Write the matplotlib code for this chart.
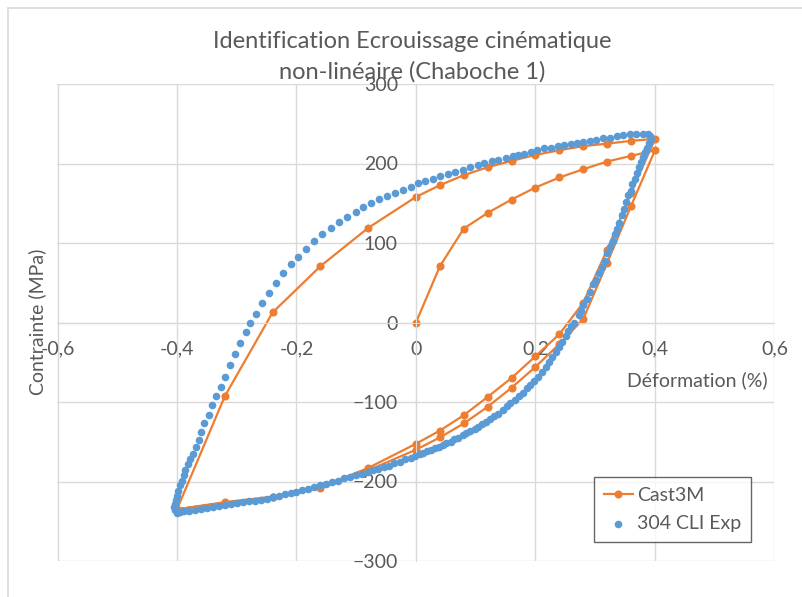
import matplotlib
matplotlib.use("Agg")
import matplotlib.pyplot as plt
from matplotlib.patches import Rectangle

plt.rcParams['font.family'] = ['Lato', 'DejaVu Sans']

# Cast3M simulation: monotonic loading, unloading, reloading, unloading
cast_load_x = [0, 0.04, 0.08, 0.12, 0.16, 0.2, 0.24, 0.28, 0.32, 0.36, 0.4]
cast_load_y = [0, 70.8, 118.2, 137.9, 154.7, 169.8, 182.4, 192.8, 202.5, 209.6, 216.7]
cast_down1_x = [0.36, 0.32, 0.28, 0.24, 0.2, 0.16, 0.12, 0.08, 0.04, 0, -0.08, -0.16, -0.24, -0.32, -0.4]
cast_down1_y = [146.7, 75, 4.5, -27, -55.8, -82, -106, -127, -144.6, -160, -186, -208, -220, -227, -235]
cast_up_x = [-0.32, -0.24, -0.16, -0.08, 0, 0.04, 0.08, 0.12, 0.16, 0.2, 0.24, 0.28, 0.32, 0.36, 0.4]
cast_up_y = [-92.7, 12.6, 70.8, 119, 158, 172.7, 185.3, 195.3, 203.3, 210.8, 216.7, 221.8, 225, 228.5, 231]
cast_down2_x = [0.36, 0.32, 0.28, 0.24, 0.2, 0.16, 0.12, 0.08, 0.04, 0, -0.08, -0.16, -0.24, -0.32, -0.4]
cast_down2_y = [163, 91.8, 25, -14.7, -42.4, -69.7, -93.6, -116.6, -136, -152.5, -183, -207, -219, -226, -235]

# 304 CLI experimental loop, unloading branch (top tip -> bottom tip)
exp_down_x = [0.394, 0.39, 0.386, 0.383, 0.38, 0.377, 0.374, 0.37, 0.366, 0.362, 0.359, 0.355,
              0.352, 0.348, 0.344, 0.34, 0.337, 0.333, 0.329, 0.325, 0.32, 0.316, 0.312, 0.306,
              0.301, 0.297, 0.291, 0.286, 0.28, 0.276, 0.272, 0.265, 0.26, 0.255, 0.251, 0.245,
              0.24, 0.234, 0.228, 0.222, 0.217, 0.211, 0.205, 0.198, 0.191, 0.185, 0.179, 0.172,
              0.165, 0.158, 0.152, 0.145, 0.138, 0.131, 0.124, 0.117, 0.111, 0.104, 0.098, 0.091,
              0.084, 0.078, 0.071, 0.064, 0.058, 0.051, 0.045, 0.038, 0.032, 0.025, 0.019, 0.012,
              0.006, -0.001, -0.009, -0.018, -0.027, -0.036, -0.045, -0.054, -0.063, -0.072, -0.081,
              -0.09, -0.1, -0.11, -0.12, -0.13, -0.14, -0.15, -0.16, -0.17, -0.18, -0.19, -0.2,
              -0.21, -0.22, -0.23, -0.24, -0.25, -0.26, -0.27, -0.28, -0.29, -0.3, -0.31, -0.32,
              -0.33, -0.34, -0.35, -0.36, -0.37, -0.38, -0.388, -0.395, -0.4]
exp_down_y = [231, 226, 220, 214, 208, 202, 195, 188, 181, 174, 166, 160,
              152, 143, 135, 125, 117, 111, 102, 95, 88, 77, 70, 62,
              54, 48, 38, 30, 22, 14, 9, 0, -5, -11, -17, -24,
              -31, -37, -43, -50, -56, -62, -68, -73, -78, -83, -89, -93,
              -97, -101, -105, -110, -115, -118, -121, -125, -128, -131, -134, -136,
              -139, -142, -145, -147, -150, -152, -154, -156, -158, -160, -162, -164,
              -166, -168, -170, -172, -175, -177, -180, -182, -184, -186, -188,
              -190, -192, -194, -196, -199, -201, -203, -205, -207, -209, -211, -213,
              -214.5, -216, -218, -220, -221.5, -223, -224, -225, -226, -227, -228.5, -230,
              -231, -232, -233.5, -234.5, -235.5, -236.5, -237.5, -238.5, -239]

# 304 CLI experimental loop, reloading branch (bottom tip -> top tip)
exp_up_x = [-0.404, -0.405, -0.404, -0.402, -0.4, -0.398, -0.395, -0.392, -0.389, -0.386, -0.382,
            -0.378, -0.374, -0.369, -0.364, -0.36, -0.354, -0.347, -0.341, -0.334, -0.327, -0.32,
            -0.312, -0.303, -0.294, -0.285, -0.277, -0.268, -0.257, -0.246, -0.234, -0.222, -0.21,
            -0.197, -0.184, -0.171, -0.157, -0.143, -0.129, -0.115, -0.101, -0.088, -0.076, -0.062,
            -0.049, -0.035, -0.022, -0.009, 0.003, 0.015, 0.028, 0.04, 0.053, 0.066, 0.078, 0.091,
            0.103, 0.114, 0.127, 0.138, 0.151, 0.162, 0.17, 0.181, 0.192, 0.203, 0.215, 0.226,
            0.237, 0.248, 0.259, 0.269, 0.28, 0.291, 0.302, 0.313, 0.324, 0.336, 0.347, 0.358,
            0.369, 0.38, 0.388, 0.392]
exp_up_y = [-236, -232, -228, -223, -218, -212, -205, -199, -192, -185, -178,
            -172, -166, -157, -148, -138, -127, -116, -104, -93, -81, -68,
            -54, -40, -26, -12, 0, 11, 24, 37, 50, 62, 73,
            83, 93, 103, 111, 119, 127, 133, 139, 145, 150, 155,
            159, 163, 167, 171, 175, 178, 181, 184, 187, 189, 192, 195,
            198, 201, 203, 205, 207.5, 209, 211, 212.5, 214.5, 216.5, 219, 220,
            222, 223, 224.5, 226, 227, 228.5, 230, 231.5, 232.5, 234, 235.5, 236.5,
            237, 237.5, 237, 235]

x_ticks = [-0.6, -0.4, -0.2, 0, 0.2, 0.4, 0.6]
x_tick_labels = ['-0,6', '-0,4', '-0,2', '0', '0,2', '0,4', '0,6']
y_ticks = [-300, -200, -100, 0, 100, 200, 300]

blue = '#5B9BD5'
orange = '#ED7D31'
grey_txt = '#595959'
grid_col = '#D9D9D9'

fig = plt.figure(figsize=(8.03, 5.97), dpi=100)
fig.patches.append(Rectangle((8 / 803, -0.1), 1.2, (597 - 8) / 597 + 0.1, transform=fig.transFigure,
                             fill=False, edgecolor=grid_col, linewidth=1.2))
ax = fig.add_axes([57.5 / 803, 36 / 597, 717 / 803, 477 / 597])

ax.scatter(exp_down_x + exp_up_x, exp_down_y + exp_up_y, s=30, color=blue, zorder=3,
           linewidths=0, label='304 CLI Exp')
cast_x = cast_load_x + cast_down1_x + cast_up_x + cast_down2_x
cast_y = cast_load_y + cast_down1_y + cast_up_y + cast_down2_y
ax.plot(cast_x, cast_y, '-o', color=orange, linewidth=1.6, markersize=4.8, zorder=2,
        label='Cast3M')

ax.set_xlim(-0.6, 0.6)
ax.set_ylim(-300, 300)
ax.set_xticks(x_ticks)
ax.set_xticklabels(x_tick_labels)
ax.set_yticks(y_ticks)
ax.grid(True, color=grid_col, linewidth=1)
ax.set_axisbelow(True)
for s in ['top', 'right']:
    ax.spines[s].set_visible(False)
for s in ['left', 'bottom']:
    ax.spines[s].set_position('zero')
    ax.spines[s].set_color(grid_col)
ax.tick_params(length=0, labelsize=14, labelcolor=grey_txt, pad=13)

fig.text(412 / 803, 1 - 42 / 597, 'Identification Ecrouissage cinématique', ha='center',
         va='center', fontsize=17, color=grey_txt)
fig.text(412 / 803, 1 - 72 / 597, 'non-linéaire (Chaboche 1)', ha='center', va='center',
         fontsize=17, color=grey_txt)
fig.text(37 / 803, 1 - 322 / 597, 'Contrainte (MPa)', rotation=90, ha='center', va='center',
         fontsize=14, color=grey_txt)
fig.text(697 / 803, 1 - 380 / 597, 'Déformation (%)', ha='center', va='center',
         fontsize=14, color=grey_txt)

handles, labels = ax.get_legend_handles_labels()
leg = ax.legend(handles[::-1], labels[::-1], loc='lower left',
                bbox_to_anchor=((594 - 57.5) / 717, (561 - 542) / 477),
                frameon=True, fancybox=False, fontsize=14, handlelength=1.5,
                handletextpad=0.2, labelcolor=grey_txt, borderpad=0.5, labelspacing=0.6,
                borderaxespad=0)
leg.get_frame().set_edgecolor('#404040')
leg.get_frame().set_linewidth(1)

fig.savefig('out.png', dpi=100)
